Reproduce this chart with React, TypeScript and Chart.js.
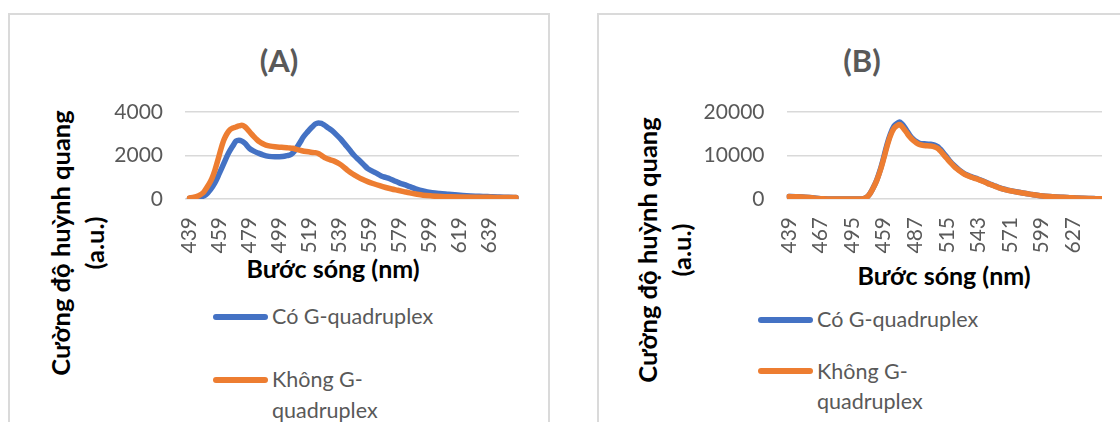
import React, { useEffect, useRef } from 'react';
import { Chart, registerables } from 'chart.js';

Chart.register(...registerables);

const BLUE = '#4472C4';
const ORANGE = '#ED7D31';
const GRID = '#d9d9d9';
const GRAY_TEXT = '#595959';
const FONT = "Lato, 'Open Sans', 'Noto Sans', sans-serif";

const seriesNames = ['Có G-quadruplex', 'Không G-quadruplex'];
const yTitle = ['Cường độ huỳnh quang', '(a.u.)'];
const xTitle = 'Bước sóng (nm)';

// ---------- Chart (A) ----------
const aTickLabels = [439, 459, 479, 499, 519, 539, 559, 579, 599, 619, 639];
const aYTicks = [0, 2000, 4000];
const aBlueNm = [439, 443, 447, 450, 453, 456, 459, 462, 465, 468, 470, 472, 474, 476, 479, 482, 485, 488, 492, 496, 501, 504, 507, 509, 511, 513, 515, 518, 521, 523, 525, 527, 529, 531, 534, 537, 540, 543, 546, 549, 552, 555, 558, 561, 564, 567, 570, 573, 576, 579, 582, 586, 590, 595, 601, 606, 612, 618, 624, 630, 635, 641, 646, 652, 657];
const aBlueVal = [30, 50, 100, 200, 430, 750, 1190, 1650, 2100, 2450, 2660, 2700, 2660, 2560, 2330, 2200, 2110, 2030, 1960, 1940, 1950, 1990, 2060, 2200, 2400, 2620, 2850, 3100, 3320, 3450, 3500, 3480, 3400, 3300, 3150, 2960, 2750, 2500, 2250, 2000, 1800, 1600, 1400, 1280, 1180, 1060, 990, 920, 830, 740, 670, 570, 470, 370, 290, 250, 215, 180, 150, 130, 120, 100, 90, 80, 70];
const aOrangeNm = [439, 442, 445, 448, 450, 452, 454, 456, 458, 460, 462, 464, 466, 468, 470, 472, 474, 476, 478, 480, 482, 484, 486, 488, 490, 493, 496, 499, 502, 505, 508, 511, 514, 517, 520, 523, 525, 527, 530, 533, 536, 539, 542, 545, 548, 551, 554, 558, 562, 566, 570, 574, 578, 582, 586, 590, 595, 601, 607, 613, 620, 630, 640, 650, 657];
const aOrangeVal = [50, 80, 150, 280, 470, 680, 950, 1330, 1800, 2300, 2720, 3000, 3180, 3260, 3310, 3360, 3390, 3320, 3180, 3020, 2870, 2730, 2620, 2540, 2480, 2430, 2400, 2380, 2370, 2350, 2330, 2270, 2220, 2180, 2150, 2130, 2090, 2010, 1880, 1800, 1730, 1620, 1470, 1290, 1150, 1030, 920, 800, 700, 610, 530, 460, 400, 340, 280, 230, 175, 140, 115, 100, 90, 80, 75, 70, 65];

// ---------- Chart (B) ----------
// categories are two scans joined: 439..500 then 437..652 (Excel labels every 28th)
const bTickLabels = ['439', '467', '495', '459', '487', '515', '543', '571', '599', '627'];
const bYTicks = [0, 10000, 20000];
const bSeg1Nm = [439, 445, 451, 457, 461, 465, 469, 474, 480, 490, 500];
const bSeg1Blue = [560, 530, 470, 340, 230, 130, 60, 20, 5, 0, 0];
const bSeg1Orange = [550, 520, 460, 330, 220, 120, 50, 15, 0, 0, 0];
const bSeg2Nm = [437, 441, 444, 447, 450, 453, 456, 459, 462, 465, 468, 471, 473, 475, 478, 480, 482, 485, 488, 491, 495, 500, 504, 507, 509, 512, 515, 518, 521, 524, 527, 530, 533, 536, 539, 542, 545, 548, 551, 554, 557, 560, 565, 570, 575, 580, 585, 590, 595, 600, 606, 612, 618, 624, 630, 636, 642, 647, 652];
const bSeg2Blue = [0, 60, 400, 1300, 2750, 4500, 6800, 9600, 12600, 15000, 16700, 17400, 17700, 17300, 16300, 15500, 14700, 13800, 13200, 12800, 12700, 12600, 12400, 12000, 11500, 10600, 9600, 8600, 7800, 7100, 6450, 5900, 5500, 5200, 4900, 4650, 4350, 4000, 3650, 3350, 3050, 2750, 2300, 1980, 1720, 1500, 1260, 1060, 860, 700, 570, 470, 385, 305, 225, 155, 110, 80, 50];
const bSeg2Orange = [0, 60, 400, 1300, 2700, 4400, 6600, 9300, 12200, 14600, 16200, 16900, 17100, 16700, 15700, 15000, 14300, 13500, 12900, 12500, 12300, 12200, 12000, 11600, 11100, 10200, 9300, 8400, 7600, 6900, 6300, 5800, 5400, 5100, 4800, 4550, 4250, 3950, 3600, 3300, 3000, 2700, 2250, 1950, 1700, 1480, 1250, 1050, 850, 690, 560, 460, 380, 300, 220, 150, 110, 80, 50];

const B_SEG1_START = 439;
const B_SEG1_END = 500;
const B_SEG2_START = 437;
const B_LABEL_EVERY = 28;

// category position of a point in chart B
const bPos1 = (nm: number) => nm - B_SEG1_START;
const bPos2 = (nm: number) => B_SEG1_END - B_SEG1_START + 1 + (nm - B_SEG2_START);

const pts = (xs: number[], ys: number[]) => xs.map((x, i) => ({ x, y: ys[i] }));

const lineDs = (label: string, color: string, data: any[], order: number) => ({
  label,
  data,
  borderColor: color,
  backgroundColor: color,
  borderWidth: 5.5,
  borderCapStyle: 'round',
  borderJoinStyle: 'round',
  pointRadius: 0,
  cubicInterpolationMode: 'monotone',
  fill: false,
  order,
});

function makeConfig(p: {
  datasets: any[];
  xMin: number;
  xMax: number;
  xTickValues: number[];
  xTickText: string[];
  yTicks: number[];
  yWidth: number;
  padRight: number;
}) {
  const tickFont = { family: FONT, size: 21 };
  return {
    type: 'line',
    data: { datasets: p.datasets },
    options: {
      animation: false,
      responsive: false,
      events: [],
      layout: { padding: { top: 97, left: 0, right: p.padRight, bottom: 56 } },
      plugins: { legend: { display: false }, title: { display: false }, tooltip: { enabled: false } },
      scales: {
        x: {
          type: 'linear',
          min: p.xMin,
          max: p.xMax,
          bounds: 'data',
          grid: { display: false, drawTicks: false },
          border: { display: false },
          afterBuildTicks: (s: any) => {
            s.ticks = p.xTickValues.map((v) => ({ value: v }));
          },
          afterFit: (s: any) => {
            s.height = 60;
          },
          ticks: {
            autoSkip: false,
            minRotation: 90,
            maxRotation: 90,
            padding: 18,
            color: GRAY_TEXT,
            font: tickFont,
            callback: (_v: any, i: number) => p.xTickText[i],
          },
        },
        y: {
          type: 'linear',
          min: p.yTicks[0],
          max: p.yTicks[p.yTicks.length - 1],
          grid: { color: GRID, lineWidth: 1.5, drawTicks: false },
          border: { display: false },
          afterBuildTicks: (s: any) => {
            s.ticks = p.yTicks.map((v) => ({ value: v }));
          },
          afterFit: (s: any) => {
            s.width = p.yWidth;
          },
          ticks: {
            padding: 22,
            color: GRAY_TEXT,
            font: tickFont,
            callback: (v: any) => String(v),
          },
        },
      },
    },
  };
}

function ChartCanvas({ config, left, top, width, height }: any) {
  const ref = useRef<HTMLCanvasElement>(null);
  useEffect(() => {
    const chart = new Chart(ref.current as HTMLCanvasElement, config);
    return () => chart.destroy();
  }, []);
  return (
    <canvas
      ref={ref}
      width={width}
      height={height}
      style={{ position: 'absolute', left, top, width, height }}
    />
  );
}

const abs = (extra: React.CSSProperties): React.CSSProperties => ({ position: 'absolute', whiteSpace: 'nowrap', ...extra });

function Panel(p: {
  frameLeft: number;
  frameWidth: number;
  title: string;
  titleX: number;
  xTitleX: number;
  xTitleY: number;
  yTitleX: number;
  yTitleY: number;
  legX: number;
  legY: number[];
}) {
  return (
    <>
      <div
        style={abs({
          left: p.frameLeft,
          top: 13,
          width: p.frameWidth,
          height: 440,
          boxSizing: 'border-box',
          border: '2px solid #dadada',
          background: '#fff',
        })}
      />
      <div
        style={abs({
          left: p.titleX,
          top: 60,
          transform: 'translate(-50%,-50%)',
          font: `bold 31px ${FONT}`,
          lineHeight: '1',
          color: GRAY_TEXT,
        })}
      >
        {p.title}
      </div>
      <div
        style={abs({
          left: p.xTitleX,
          top: p.xTitleY,
          transform: 'translate(-50%,-50%)',
          font: `bold 25px ${FONT}`,
          lineHeight: '1',
          color: '#000',
        })}
      >
        {xTitle}
      </div>
      <div
        style={abs({
          left: p.yTitleX,
          top: p.yTitleY,
          transform: 'translate(-50%,-50%) rotate(-90deg)',
          font: `bold 25.5px ${FONT}`,
          lineHeight: '34px',
          color: '#000',
          textAlign: 'center',
        })}
      >
        {yTitle[0]}
        <br />
        {yTitle[1]}
      </div>
      {[BLUE, ORANGE].map((c, i) => (
        <div
          key={c}
          style={abs({
            left: p.legX,
            top: p.legY[i] - 3,
            width: 55,
            height: 6,
            borderRadius: 3,
            background: c,
          })}
        />
      ))}
      {[seriesNames[0], 'Không G-', 'quadruplex'].map((t, i) => (
        <div
          key={t}
          style={abs({
            left: p.legX + 59,
            top: p.legY[2 + i],
            transform: 'translateY(-50%)',
            font: `21.5px ${FONT}`,
            lineHeight: '1',
            color: GRAY_TEXT,
          })}
        >
          {t}
        </div>
      ))}
    </>
  );
}

const configA = makeConfig({
  datasets: [
    lineDs(seriesNames[0], BLUE, pts(aBlueNm, aBlueVal), 1),
    lineDs(seriesNames[1], ORANGE, pts(aOrangeNm, aOrangeVal), 0),
  ],
  xMin: 436,
  xMax: 659,
  xTickValues: aTickLabels,
  xTickText: aTickLabels.map(String),
  yTicks: aYTicks,
  yWidth: 175,
  padRight: 21,
});

const bBlue = [...pts(bSeg1Nm.map(bPos1), bSeg1Blue), ...pts(bSeg2Nm.map(bPos2), bSeg2Blue)];
const bOrange = [...pts(bSeg1Nm.map(bPos1), bSeg1Orange), ...pts(bSeg2Nm.map(bPos2), bSeg2Orange)];

const configB = makeConfig({
  datasets: [lineDs(seriesNames[0], BLUE, bBlue, 1), lineDs(seriesNames[1], ORANGE, bOrange, 0)],
  xMin: -2.2,
  xMax: 277.5,
  xTickValues: bTickLabels.map((_, i) => i * B_LABEL_EVERY),
  xTickText: bTickLabels,
  yTicks: bYTicks,
  yWidth: 187.5,
  padRight: 18,
});

export default function App() {
  return (
    <div style={{ position: 'absolute', left: 0, top: 0, width: 1120, height: 422, overflow: 'hidden', background: '#fff' }}>
      <Panel
        frameLeft={8}
        frameWidth={542}
        title="(A)"
        titleX={279}
        xTitleX={333}
        xTitleY={268}
        yTitleX={77}
        yTitleY={243}
        legX={213}
        legY={[317, 380, 317, 380, 411]}
      />
      <ChartCanvas config={configA} left={10} top={15} width={530} height={300} />
      <Panel
        frameLeft={597}
        frameWidth={600}
        title="(B)"
        titleX={862}
        xTitleX={944}
        xTitleY={275}
        yTitleX={664}
        yTitleY={250}
        legX={758}
        legY={[319.5, 371, 319.5, 372, 402]}
      />
      <ChartCanvas config={configB} left={599} top={15} width={521} height={300} />
    </div>
  );
}
